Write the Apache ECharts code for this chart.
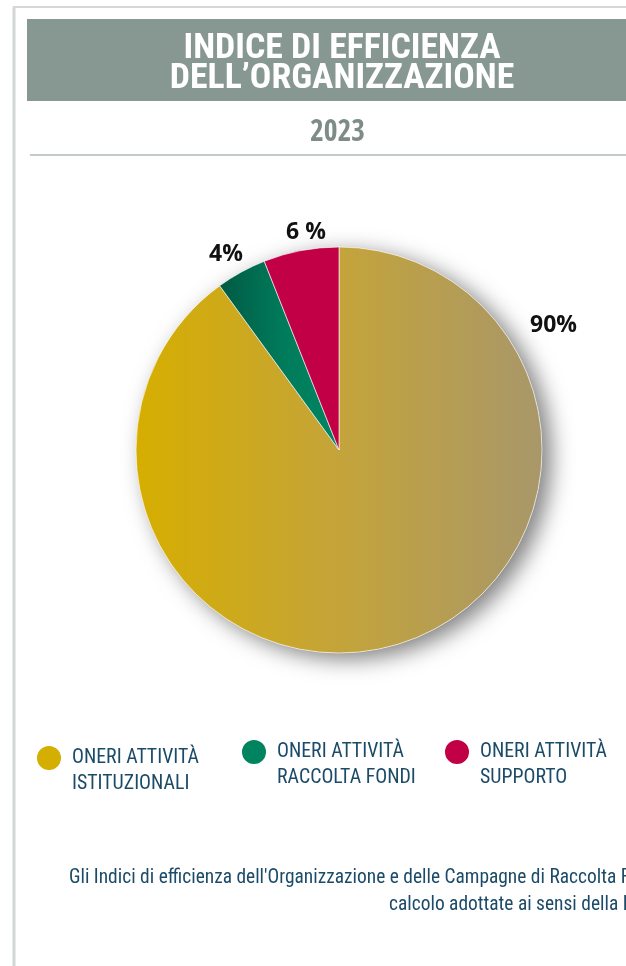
<!DOCTYPE html>
<html><head><meta charset="utf-8">
<script src="https://cdn.jsdelivr.net/npm/echarts@6/dist/echarts.min.js"></script>
<style>html,body{margin:0;padding:0;background:#fff}#c{width:626px;height:966px}</style>
</head><body><div id="c"></div>
<script>
// ---- data ----
const categories = ['ONERI ATTIVITÀ\nISTITUZIONALI', 'ONERI ATTIVITÀ\nRACCOLTA FONDI', 'ONERI ATTIVITÀ\nSUPPORTO'];
const values = [90, 4, 6];
const valueLabels = ['90%', '4%', '6 %'];
const titleLines = ['INDICE DI EFFICIENZA', 'DELL\u2019ORGANIZZAZIONE'];
const yearLabel = '2023';
const noteLines = ["Gli Indici di efficienza dell'Organizzazione e delle Campagne di Raccolta Fondi", 'calcolo adottate ai sensi della Legge'];

// ---- styles ----
const COND_BOLD = "'Open Sans Condensed','Roboto Condensed',sans-serif";
const COND = "'Roboto Condensed','Open Sans Condensed',sans-serif";
const LABEL_FONT = "'Open Sans','Noto Sans',sans-serif";
const BLUE = '#1b4b68';
const ctx = document.createElement('canvas').getContext('2d');
function fit(text, family, weight, target) {
  ctx.font = weight + ' 100px ' + family;
  return +(100 * target / ctx.measureText(text).width).toFixed(2);
}
const titleSize = fit(titleLines[0], COND, 'bold', 317);
const yearSize = fit(yearLabel, COND_BOLD, 'bold', 55);
const labelSize = fit('90%', LABEL_FONT, 'bold', 47);
const legendSize = fit('ONERI ATTIVITÀ', COND, 'normal', 127);
const noteSize = fit('Gli Indici di efficienza', COND, 'normal', 163);

const legendColors = ['#d4ae00', '#00845f', '#c20045'];
const sliceColors = [
  new echarts.graphic.LinearGradient(0, 0, 1, 0, [{offset: 0, color: '#d6ae00'}, {offset: 0.5, color: '#c4a43a'}, {offset: 1, color: '#a8976a'}]),
  new echarts.graphic.LinearGradient(0, 0, 1, 0, [{offset: 0, color: '#005a44'}, {offset: 0.55, color: '#007c5b'}, {offset: 1, color: '#008562'}]),
  '#c20045'
];
const labelPos = [[553.5, 325.5], [226, 254], [306, 232]];
const legendPos = [[37, 745], [242, 739], [445, 739]];
const LH = 26;
// circle (24px) at the top-left of a 30x52 box so it lines up with the first text line
const legendIcon = 'path://M0,13 A12,12 0 1,1 24,13 A12,12 0 1,1 0,13 Z M0,0 L0.01,0 Z M30,52 L29.99,52 Z';
const center = [339, 450];
const radius = 203;

const chart = echarts.init(document.getElementById('c'), null, {renderer: 'canvas'});
const option = {
  backgroundColor: '#ffffff',
  animation: false,
  title: {
    text: titleLines.join('\n'),
    left: 342, top: 34, textAlign: 'center', padding: 0,
    textStyle: {color: '#ffffff', fontFamily: COND, fontWeight: 'bold', fontSize: titleSize, lineHeight: 30}
  },
  graphic: [
    {type: 'line', shape: {x1: 13, y1: 7, x2: 626, y2: 7}, style: {stroke: '#d3d8d6', lineWidth: 2}, z: 0},
    {type: 'line', shape: {x1: 14, y1: 7, x2: 14, y2: 966}, style: {stroke: '#d3d8d6', lineWidth: 3}, z: 0},
    {type: 'rect', shape: {x: 27, y: 19, width: 600, height: 82}, style: {fill: '#879791'}, z: -1},
    {type: 'text', style: {text: yearLabel, x: 337.5, y: 133, align: 'center', verticalAlign: 'middle', fill: '#7e8c87', font: 'bold ' + yearSize + 'px ' + COND_BOLD}},
    {type: 'line', shape: {x1: 30, y1: 155, x2: 626, y2: 155}, style: {stroke: '#c3cac7', lineWidth: 2}},
    {type: 'text', style: {text: noteLines[0], x: 69, y: 878, verticalAlign: 'middle', fill: BLUE, font: noteSize + 'px ' + COND}},
    {type: 'text', style: {text: noteLines[1], x: 389, y: 905, verticalAlign: 'middle', fill: BLUE, font: noteSize + 'px ' + COND}}
  ],
  legend: categories.map((c, i) => ({
    left: legendPos[i][0], top: legendPos[i][1], padding: 0,
    icon: legendIcon, itemWidth: 30, itemHeight: 2 * LH, itemGap: 0,
    selectedMode: false,
    itemStyle: {borderWidth: 0},
    data: [{name: c, itemStyle: {color: legendColors[i], borderWidth: 0}}],
    textStyle: {color: BLUE, fontFamily: COND, fontSize: legendSize, lineHeight: LH}
  })),
  series: [
    {
      type: 'pie', center: center, radius: radius, silent: true, z: 1,
      label: {show: false}, labelLine: {show: false},
      itemStyle: {color: '#ffffff', shadowBlur: 22, shadowColor: 'rgba(0,0,0,0.5)', shadowOffsetX: 9, shadowOffsetY: 6},
      data: [{value: 1, name: 'bg'}]
    },
    {
      type: 'pie', center: center, radius: radius, startAngle: 90, clockwise: true, z: 2,
      silent: true,
      itemStyle: {borderColor: '#ffffff', borderWidth: 0.6},
      labelLine: {show: false},
      label: {
        show: true, position: 'outside', color: '#111',
        fontFamily: LABEL_FONT, fontWeight: 'bold', fontSize: labelSize,
        formatter: p => valueLabels[p.dataIndex]
      },
      labelLayout: p => ({x: labelPos[p.dataIndex][0], y: labelPos[p.dataIndex][1], align: 'center', verticalAlign: 'middle'}),
      data: categories.map((c, i) => ({name: c, value: values[i], itemStyle: {color: sliceColors[i]}}))
    }
  ]
};
chart.setOption(option);
</script></body></html>
